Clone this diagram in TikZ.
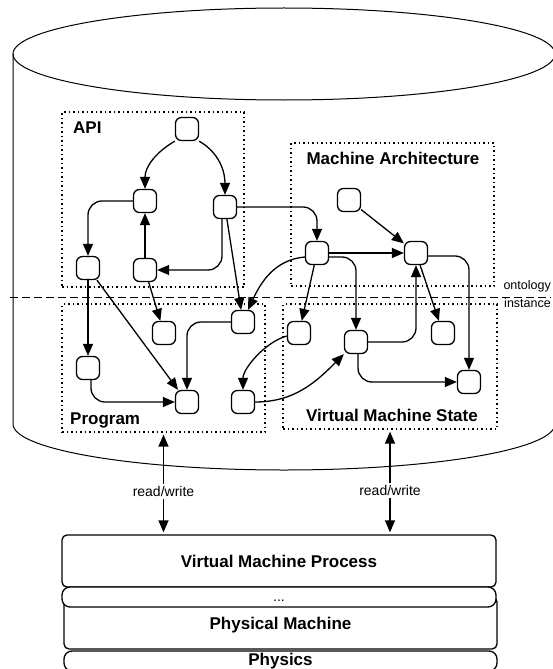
\documentclass[tikz,border=0pt]{standalone}
\usepackage{fontspec}
\setmainfont{Liberation Sans}
\usepackage{tikz}
\usetikzlibrary{arrows.meta}
\newcommand\lblfont{\fontsize{17}{20}\selectfont\bfseries}
\newcommand\txtfont{\fontsize{14}{16}\selectfont}
\newcommand\tinyfont{\fontsize{12.5}{15}\selectfont}

\begin{document}
\begin{tikzpicture}[x=1pt, y=1pt, >={Triangle[length=12pt,width=10pt]},
  main/.style = {draw, rounded corners=6pt, minimum size=23pt, inner sep=0pt, line width=1.3pt},
  region/.style = {draw, line width=1.2pt, dash pattern=on 1.5pt off 3pt, inner sep=0pt},
  layer/.style = {draw, line width=1.3pt, inner sep=2pt, text height=12pt, text depth=0pt, font=\lblfont},
  link/.style = {->, line width=1.3pt, rounded corners=14pt},
  lbl/.style = {font=\lblfont, inner sep=0pt}]
	\useasboundingbox (0,0) rectangle (552,-669);
	% store
	\draw[line width=1pt] (284,-54) ellipse [x radius=271pt, y radius=46pt];
	\draw[line width=1pt] (13,-54) -- (13,-424) arc[start angle=180, end angle=360, x radius=271pt, y radius=46pt] -- (555,-54);
	\draw[line width=1pt, dash pattern=on 8pt off 4pt] (10,-297) -- (551,-297);
	\node[anchor=base east, font=\tinyfont, inner sep=0pt] (onto) at (551,-289) {ontology};
	\node[anchor=base east, font=\tinyfont, inner sep=0pt] (inst) at (551,-307.5) {instance};
	% regions
	\node[region, minimum width=182pt, minimum height=175pt] (api) at (153,-199.5) {};
	\node[region, minimum width=203pt, minimum height=143pt] (arch) at (392.5,-214.5) {};
	\node[region, minimum width=203pt, minimum height=128pt] (prog) at (163.5,-368) {};
	\node[region, minimum width=214pt, minimum height=125pt] (state) at (390,-366.5) {};
	\node[lbl, anchor=base west] (apilbl) at (73,-133) {API};
	\node[lbl, anchor=base] (archlbl) at (393,-164) {Machine Architecture};
	\node[lbl, anchor=base west] (proglbl) at (70,-424) {Program};
	\node[lbl, anchor=base] (statelbl) at (392,-421.5) {Virtual Machine State};
	% items
	\node[main] (a1) at (187,-129){};
	\node[main] (a2) at (145,-201){};
	\node[main] (a3) at (225,-207){};
	\node[main] (a4) at (88,-268){};
	\node[main] (a5) at (145,-270){};
	\node[main] (m0) at (349,-200){};
	\node[main] (m1) at (317,-253){};
	\node[main] (m2) at (416,-253){};
	\node[main] (p1) at (88,-368){};
	\node[main] (p2) at (164,-333){};
	\node[main] (p3) at (243,-322){};
	\node[main] (p4) at (243,-402){};
	\node[main] (p5) at (187,-402){};
	\node[main] (s1) at (299,-333){};
	\node[main] (s2) at (356,-342){};
	\node[main] (s3) at (443,-333){};
	\node[main] (s4) at (469,-382){};
	\draw[link] (a1.south west) to[out=-150, in=90] (a2.north);
	\draw[link] (a1.south east) to[out=-30, in=90] (a3.north);
	\draw[link] (a2.west) -| (a4.north);
	\draw[link] (a5) -- (a2);
	\draw[link] ([xshift=-3pt]a3.south) |- (a5.east);
	\draw[link] (a3.east) -| (m1.north);
	\draw[link] (a3) -- (p3);
	\draw[link] (a4) -- (p1);
	\draw[link] (a4) -- (p5);
	\draw[link] (a5) -- (p2);
	\draw[link] (m0) -- (m2);
	\draw[link] (m1) -- (m2);
	\draw[link] ([yshift=-4pt]m1.west) to[out=185, in=65] ([xshift=5pt]p3.north);
	\draw[link] (m1) -- (s1);
	\draw[link] ([yshift=-4pt]m1.east) -| (s2.north);
	\draw[link] (m2) -- (s3);
	\draw[link] ([yshift=-3pt]m2.east) -| (s4.north);
	\draw[link] (s2.east) -| (m2.south);
	\draw[link] ([xshift=2pt]s2.south) |- (s4.west);
	\draw[link] ([yshift=-3pt]s1.west) to[out=195, in=90, looseness=0.8] (p4.north);
	\draw[link] (p4.east) to[out=0, in=225] (s2.south west);
	\draw[link] ([xshift=3pt]p1.south) |- (p5.west);
	\draw[link] (p3.west) -| (p5.north);
	% layers
	\node[layer, rounded corners=5pt, minimum width=434pt, minimum height=52pt] (vmp) at (279,-561) {Virtual Machine Process};
	\node[layer, rounded corners=5pt, minimum width=433pt, minimum height=52pt] (pm) at (280.5,-623) {Physical Machine};
	\node[layer, rounded corners=8pt, fill=white, font=\txtfont, text height=9pt, minimum width=434pt, minimum height=20pt] (dots) at (279,-597) {...};
	\node[layer, rounded corners=8pt, text height=8pt, minimum width=433pt, minimum height=20pt] (phys) at (280.5,-661) {Physics};
	\draw[<->, line width=1.3pt, shorten <=2pt, shorten >=2pt] (prog.south) -- (prog.south |- vmp.north) node[pos=0.58, fill=white, font=\txtfont, inner sep=2pt] (rw1) {read/write};
	\draw[<->, line width=1.3pt, shorten <=2pt, shorten >=2pt] (state.south) -- (state.south |- vmp.north) node[pos=0.58, fill=white, font=\txtfont, inner sep=2pt] (rw2) {read/write};
\end{tikzpicture}
\end{document}
